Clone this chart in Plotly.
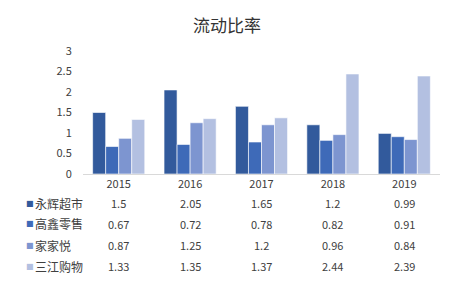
import plotly.graph_objects as go

years = ["2015", "2016", "2017", "2018", "2019"]
series_names = ["永辉超市", "高鑫零售", "家家悦", "三江购物"]
yonghui = [1.5, 2.05, 1.65, 1.2, 0.99]
gaoxin = [0.67, 0.72, 0.78, 0.82, 0.91]
jiajiayue = [0.87, 1.25, 1.2, 0.96, 0.84]
sanjiang = [1.33, 1.35, 1.37, 2.44, 2.39]
value_labels = [
    ["1.5", "2.05", "1.65", "1.2", "0.99"],
    ["0.67", "0.72", "0.78", "0.82", "0.91"],
    ["0.87", "1.25", "1.2", "0.96", "0.84"],
    ["1.33", "1.35", "1.37", "2.44", "2.39"],
]
y_ticks = [0, 0.5, 1, 1.5, 2, 2.5, 3]
y_tick_text = ["0", "0.5", "1", "1.5", "2", "2.5", "3"]

colors = ["#325A9C", "#3E6AB8", "#7D95D0", "#B3C0E1"]
all_series = [yonghui, gaoxin, jiajiayue, sanjiang]

W, H = 454, 284
ML, MR, MT, MB = 83, 14, 51, 110
plot_w = W - ML - MR
plot_h = H - MT - MB

def py(pix):
    return (H - MB - pix) / plot_h

def px(pix):
    return (pix - ML) / plot_w

font_fam = "Noto Sans CJK SC, Noto Sans, sans-serif"
txt_color = "#404040"

fig = go.Figure()
for name, vals, c in zip(series_names, all_series, colors):
    fig.add_trace(go.Bar(x=years, y=vals, name=name, marker_color=c,
                         marker_line_color="white", marker_line_width=0.6))

annotations = []
row_y = [203, 223.5, 245, 266]
for i, (name, c) in enumerate(zip(series_names, colors)):
    annotations.append(dict(xref="paper", yref="paper", x=px(24), y=py(row_y[i]),
                            text=f"<span style='color:{c}'>■</span>", showarrow=False,
                            xanchor="left", yanchor="middle",
                            font=dict(family="DejaVu Sans", size=8, color=c)))
    annotations.append(dict(xref="paper", yref="paper", x=px(33), y=py(row_y[i]),
                            text=name, showarrow=False,
                            xanchor="left", yanchor="middle",
                            font=dict(family=font_fam, size=12, color=txt_color)))
    for j, yr in enumerate(years):
        annotations.append(dict(xref="x", yref="paper", x=j, y=py(row_y[i]),
                                text=value_labels[i][j], showarrow=False,
                                xanchor="center", yanchor="middle",
                                font=dict(family=font_fam, size=11, color=txt_color)))

annotations.append(dict(xref="paper", yref="paper", x=px(227), y=py(24),
                        text="流动比率", showarrow=False, xanchor="center", yanchor="middle",
                        font=dict(family=font_fam, size=17, color="#333333")))

fig.update_layout(
    width=W, height=H,
    margin=dict(l=ML, r=MR, t=MT, b=MB),
    barmode="group", bargap=0.27, bargroupgap=0,
    showlegend=False,
    plot_bgcolor="white", paper_bgcolor="white",
    annotations=annotations,
    xaxis=dict(type="category", range=[-0.5, 4.5], showgrid=False, showline=True,
               linecolor="#D9D9D9", linewidth=1, ticks="",
               tickfont=dict(family=font_fam, size=11, color=txt_color)),
    yaxis=dict(range=[0, 3], tickvals=y_ticks, ticktext=y_tick_text, showgrid=False,
               zeroline=False, showline=False, ticks="outside", ticklen=8,
               tickcolor="rgba(0,0,0,0)",
               tickfont=dict(family=font_fam, size=11, color=txt_color)),
)

fig.write_html("out.html")
